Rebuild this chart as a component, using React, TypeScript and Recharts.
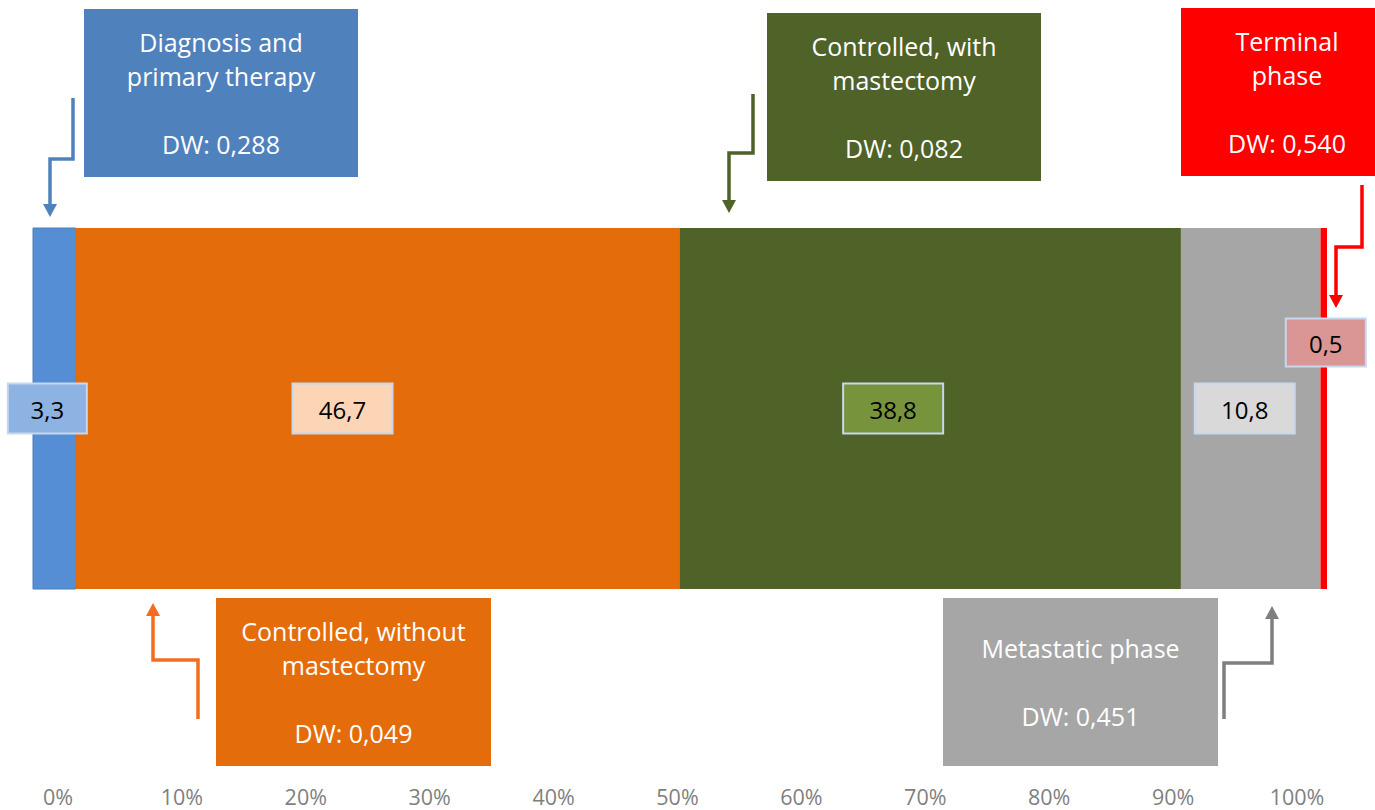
import React from "react";
import { BarChart, Bar, XAxis, YAxis, LabelList, ReferenceLine } from "recharts";

// Share of breast cancer patients per disease stage (%), with disability weights
const stageKeys = ["diagnosis", "controlledNoMast", "controlledMast", "metastatic", "terminal"];
const stageShares = [3.3, 46.7, 38.8, 10.8, 0.5];
const stageTitles = [
  ["Diagnosis and", "primary therapy"],
  ["Controlled, without", "mastectomy"],
  ["Controlled, with", "mastectomy"],
  ["Metastatic phase"],
  ["Terminal", "phase"],
];
const disabilityWeights = [0.288, 0.049, 0.082, 0.451, 0.54];
const percentTicks = [0, 10, 20, 30, 40, 50, 60, 70, 80, 90, 100];

const FONT = "'Open Sans', 'Noto Sans', sans-serif";
const W = 1375;
const H = 810;

const barFills = ["#558ed5", "#e46c0a", "#4f6228", "#a6a6a6", "#ff0000"];
const valueBoxFills = ["#8db3e2", "#fbd5b5", "#77933c", "#d9d9d9", "#d99694"];
// value box placement relative to the centre of its segment
const valueBoxLayout = [
  { dx: -7, dy: 0, w: 79, h: 50 },
  { dx: -35, dy: 0, w: 100, h: 50 },
  { dx: -37, dy: 0, w: 100, h: 50 },
  { dx: -6, dy: 0, w: 100, h: 50 },
  { dx: 2, dy: -66, w: 80, h: 48 },
];

// callout boxes and elbow arrows
const calloutFills = ["#4f81bd", "#e46c0a", "#4f6228", "#a6a6a6", "#ff0000"];
const arrowColors = ["#4f81bd", "#f26d21", "#4f6228", "#7f7f7f", "#ff0000"];
const calloutBoxes = [
  { x: 84, y: 9, w: 274 },
  { x: 216, y: 598, w: 275 },
  { x: 767, y: 13, w: 274 },
  { x: 943, y: 598, w: 275 },
  { x: 1181, y: 8, w: 212 },
];
const arrowPaths = [
  [[73, 98], [73, 159], [50, 159], [50, 217]],
  [[198, 719], [198, 660], [153, 660], [153, 603]],
  [[753, 94], [753, 153], [729, 153], [729, 213]],
  [[1224, 719], [1224, 663], [1272, 663], [1272, 606]],
  [[1362, 185], [1362, 247], [1336, 247], [1336, 308]],
];

const commaDecimal = (v: number, digits: number) => v.toFixed(digits).replace(".", ",");

const chartRow: Record<string, number | string> = { name: "Breast cancer" };
stageKeys.forEach((k, i) => {
  chartRow[k] = stageShares[i];
});
const chartData = [chartRow];
const stackTotal = stageShares.reduce((a, b) => a + b, 0);

const makeValueBox = (i: number) => (props: any) => {
  const vb = props.viewBox ?? props;
  const x = Number(vb.x ?? props.x);
  const y = Number(vb.y ?? props.y);
  const width = Number(vb.width ?? props.width);
  const height = Number(vb.height ?? props.height);
  const { dx, dy, w, h } = valueBoxLayout[i];
  const cx = x + width / 2 + dx;
  const cy = y + height / 2 + dy;
  return (
    <g>
      <rect
        x={cx - w / 2}
        y={cy - h / 2}
        width={w}
        height={h}
        fill={valueBoxFills[i]}
        stroke="#c6d7ee"
        strokeWidth={2}
      />
      <text
        x={cx}
        y={cy + 1}
        textAnchor="middle"
        dominantBaseline="central"
        fontFamily={FONT}
        fontSize={24}
        fill="#000"
      >
        {commaDecimal(Number(props.value), 1)}
      </text>
    </g>
  );
};

const Arrow: React.FC<{ points: number[][]; color: string }> = ({ points, color }) => {
  const head = 13;
  const half = 7;
  const [, py] = points[points.length - 2];
  const [tx, ty] = points[points.length - 1];
  const dir = Math.sign(ty - py);
  const baseY = ty - dir * head;
  const line = points
    .slice(0, -1)
    .map((p) => p.join(","))
    .concat(`${tx},${baseY}`)
    .join(" ");
  return (
    <g>
      <polyline points={line} fill="none" stroke={color} strokeWidth={3.5} strokeLinejoin="miter" />
      <polygon points={`${tx - half},${baseY} ${tx + half},${baseY} ${tx},${ty}`} fill={color} />
    </g>
  );
};

const Callouts: React.FC = () => (
  <svg
    width={W}
    height={H}
    style={{ position: "absolute", left: 0, top: 0, pointerEvents: "none" }}
  >
    {calloutBoxes.map((b, i) => {
      const lines = [...stageTitles[i], "", `DW: ${commaDecimal(disabilityWeights[i], 3)}`];
      const boxH = 168;
      const lineH = 33.7;
      const startY = b.y + boxH / 2 - ((lines.length - 1) * lineH) / 2;
      return (
        <g key={stageKeys[i]}>
          <rect x={b.x} y={b.y} width={b.w} height={boxH} fill={calloutFills[i]} />
          {lines.map((t, j) =>
            t ? (
              <text
                key={j}
                x={b.x + b.w / 2}
                y={startY + j * lineH}
                textAnchor="middle"
                dominantBaseline="central"
                fontFamily={FONT}
                fontSize={25}
                fill="#fff"
              >
                {t}
              </text>
            ) : null
          )}
          <Arrow points={arrowPaths[i]} color={arrowColors[i]} />
        </g>
      );
    })}
  </svg>
);

export default function App() {
  return (
    <div style={{ position: "absolute", left: 0, top: 0, width: W, height: H, background: "#fff" }}>
      <BarChart
        width={W}
        height={H}
        data={chartData}
        layout="vertical"
        margin={{ top: 228, right: 48, bottom: 0, left: 33 }}
        barCategoryGap={0}
      >
        <YAxis type="category" dataKey="name" hide />
        <XAxis xAxisId="bar" type="number" domain={[0, stackTotal]} hide />
        <XAxis
          xAxisId="pct"
          type="number"
          domain={[0, 100]}
          allowDataOverflow
          ticks={percentTicks}
          interval={0}
          tickFormatter={(v) => `${v}%`}
          padding={{ left: 25, right: 30 }}
          axisLine={false}
          tickLine={false}
          tickSize={0}
          tickMargin={171}
          height={221}
          tick={{ fill: "#7f7f7f", fontSize: 21.5, fontFamily: FONT }}
        />
        {/* invisible anchors so the percentage axis gets a domain */}
        <ReferenceLine xAxisId="pct" x={0} stroke="none" ifOverflow="extendDomain" />
        <ReferenceLine xAxisId="pct" x={100} stroke="none" ifOverflow="extendDomain" />
        {stageKeys.map((k, i) => (
          <Bar
            key={k}
            dataKey={k}
            stackId="stages"
            xAxisId="bar"
            fill={barFills[i]}
            stroke={i === 0 ? "#4a7ebb" : undefined}
            strokeWidth={i === 0 ? 1 : 0}
            isAnimationActive={false}
          >
            <LabelList dataKey={k} content={makeValueBox(i)} />
          </Bar>
        ))}
      </BarChart>
      <Callouts />
    </div>
  );
}
